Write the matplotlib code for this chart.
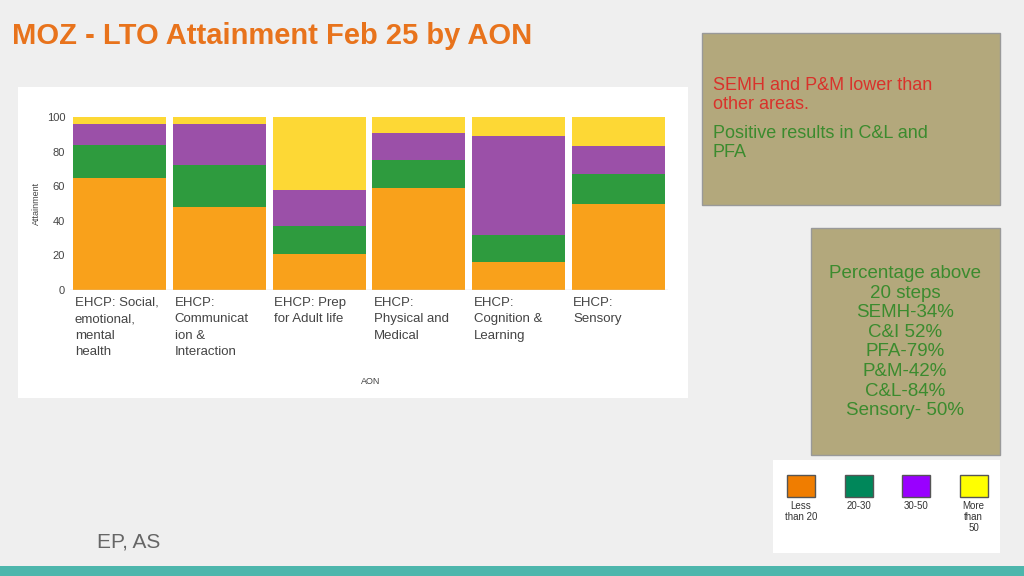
import matplotlib.pyplot as plt
import matplotlib.patches as mpatches
import numpy as np

plt.rcParams["font.family"] = "Liberation Sans"

# Data
categories = ["EHCP: Social,\nemotional,\nmental\nhealth", "EHCP:\nCommunicat\nion &\nInteraction",
              "EHCP: Prep\nfor Adult life", "EHCP:\nPhysical and\nMedical",
              "EHCP:\nCognition &\nLearning", "EHCP:\nSensory"]
less_than_20 = [65, 48, 21, 59, 16, 50]
band_20_30 = [19, 24, 16, 16, 16, 17]
band_30_50 = [12, 24, 21, 16, 57, 16]
more_than_50 = [4, 4, 42, 9, 11, 17]
series = [less_than_20, band_20_30, band_30_50, more_than_50]
bar_colors = ["#f9a11b", "#2e9b3e", "#9b50a8", "#fdd835"]
legend_labels = ["Less\nthan 20", "20-30", "30-50", "More\nthan\n50"]
legend_colors = ["#f07d00", "#00875a", "#9900ff", "#ffff00"]

W, H = 1024, 576
fig = plt.figure(figsize=(W / 100, H / 100), dpi=100)
fig.patch.set_facecolor("#efefef")

def box(x, y, w, h, fc, ec="none"):
    fig.patches.append(mpatches.Rectangle((x / W, 1 - (y + h) / H), w / W, h / H,
                                          transform=fig.transFigure, fc=fc, ec=ec, lw=1, zorder=0))

# Title
fig.text(12 / W, 1 - 36 / H, "MOZ - LTO Attainment Feb 25 by AON", fontsize=21, fontweight="bold",
         color="#e8731c", va="center")

# chart image background
box(18, 87, 670, 311, "white")
ax = fig.add_axes([70 / W, 1 - 290 / H, 598 / W, 173 / H])
ax.set_zorder(5)
ax.patch.set_alpha(0)
x = np.arange(len(categories))
bottom = np.zeros(len(categories))
for vals, c in zip(series, bar_colors):
    ax.bar(x, vals, bottom=bottom, width=0.93, color=c)
    bottom += np.array(vals)
ax.set_xlim(-0.5, len(categories) - 0.5)
ax.set_ylim(0, 100)
ax.set_yticks([0, 20, 40, 60, 80, 100])
ax.tick_params(axis="y", labelsize=8, length=0, colors="#444444")
ax.set_xticks([])
for s in ax.spines.values():
    s.set_visible(False)
ax.axhline(0, color="#cccccc", lw=1)
ax.set_ylabel("Attainment", fontsize=6.5, color="#444444")
for i, lab in enumerate(categories):
    ax.text(i - 0.45, -4, lab, fontsize=9.5, color="#444444", va="top", ha="left",
            linespacing=1.5, transform=ax.transData)
fig.text(371 / W, 1 - 381 / H, "AON", fontsize=6.5, color="#444444", ha="center", va="center")

# Box 1
box(702, 33, 298, 172, "#b3a87c", "#999999")
fig.text(713 / W, 1 - 95 / H, "SEMH and P&M lower than\nother areas.", fontsize=13,
         color="#d9322b", va="center", linespacing=1.15)
fig.text(713 / W, 1 - 143 / H, "Positive results in C&L and\nPFA", fontsize=13,
         color="#3b8b2e", va="center", linespacing=1.15)

# Box 2
box(811, 228, 189, 227, "#b3a87c", "#999999")
fig.text(905 / W, 1 - 342 / H,
         "Percentage above\n20 steps\nSEMH-34%\nC&I 52%\nPFA-79%\nP&M-42%\nC&L-84%\nSensory- 50%",
         fontsize=13.5, color="#3b8b2e", ha="center", va="center", linespacing=1.2)

# Legend
box(773, 460, 227, 93, "white")
for i, (lab, c) in enumerate(zip(legend_labels, legend_colors)):
    cx = 801 + i * 57.5
    box(cx - 14, 475, 28, 22, c, "#555555")
    fig.text(cx / W, 1 - 501 / H, lab, fontsize=7, color="#333333", ha="center", va="top",
             linespacing=1.1)

fig.text(97 / W, 1 - 542 / H, "EP, AS", fontsize=15, color="#666666", va="center")
box(0, 566, 1024, 10, "#4db6ac")

fig.savefig("out.png", dpi=100, facecolor=fig.get_facecolor())
